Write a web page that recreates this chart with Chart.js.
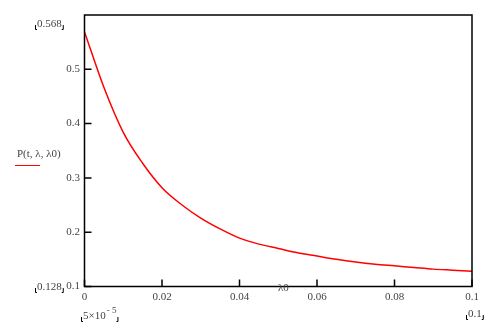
<!DOCTYPE html>
<html>
<head>
<meta charset="utf-8">
<script src="https://cdn.jsdelivr.net/npm/chart.js"></script>
<style>
html, body { margin: 0; padding: 0; background: #fff; }
</style>
</head>
<body>
<canvas id="plot" width="498" height="323"></canvas>
<script>
// values: P(t, λ, λ0) against λ0
const lambda0 = [0.00005, 0.005, 0.01, 0.015, 0.02, 0.025, 0.03, 0.035, 0.04, 0.045, 0.05,
                 0.055, 0.06, 0.065, 0.07, 0.075, 0.08, 0.085, 0.09, 0.095, 0.1];
const prob = [0.568, 0.467, 0.384, 0.327, 0.282, 0.251, 0.226, 0.206, 0.189, 0.178, 0.170,
              0.162, 0.156, 0.150, 0.145, 0.141, 0.138, 0.135, 0.132, 0.130, 0.128];
const xTicks = [0, 0.02, 0.04, 0.06, 0.08, 0.1];
const yTicks = [0.1, 0.2, 0.3, 0.4, 0.5];

const labelFont = '11px "Liberation Serif"';
const labelColor = '#444';

function fmt(v) {
    return v === 0 ? '0' : String(+v.toFixed(2));
}

// Mathcad-style limit label with little corner marks
function limitLabel(ctx, text, x, y, sup) {
    ctx.save();
    ctx.font = labelFont;
    ctx.fillStyle = labelColor;
    ctx.textBaseline = 'middle';
    ctx.textAlign = 'left';
    let w = ctx.measureText(text).width;
    ctx.fillText(text, x, y);
    if (sup) {
        ctx.font = '9px "Liberation Serif"';
        ctx.fillText(sup, x + w + 1, y - 5);
        w += ctx.measureText(sup).width + 1;
    }
    ctx.strokeStyle = '#000';
    ctx.lineWidth = 1;
    ctx.beginPath();
    ctx.moveTo(x - 1.5, y + 1);
    ctx.lineTo(x - 1.5, y + 5.5);
    ctx.lineTo(x, y + 5.5);
    ctx.moveTo(x + w + 1.5, y + 1);
    ctx.lineTo(x + w + 1.5, y + 5.5);
    ctx.lineTo(x + w, y + 5.5);
    ctx.stroke();
    ctx.restore();
}

const frame = {
    id: 'frame',
    afterDatasetsDraw(chart) {
        const ctx = chart.ctx;
        const a = chart.chartArea;
        const xs = chart.scales.x, ys = chart.scales.y;
        ctx.save();
        ctx.strokeStyle = '#000';
        ctx.lineWidth = 1.5;
        ctx.strokeRect(a.left, a.top, a.right - a.left, a.bottom - a.top);
        ctx.beginPath();
        xTicks.forEach(v => {
            const px = xs.getPixelForValue(v);
            ctx.moveTo(px, a.bottom);
            ctx.lineTo(px, a.bottom - 7);
        });
        yTicks.forEach(v => {
            const py = ys.getPixelForValue(v);
            ctx.moveTo(a.left, py);
            ctx.lineTo(a.left + 7, py);
        });
        ctx.stroke();

        ctx.font = labelFont;
        ctx.fillStyle = labelColor;
        ctx.textBaseline = 'middle';
        ctx.fillText('P(t, \u03bb, \u03bb0)', 17, 154);
        ctx.fillText('\u03bb0', 278, 288);
        ctx.strokeStyle = '#ff0000';
        ctx.lineWidth = 1;
        ctx.beginPath();
        ctx.moveTo(15, 165.5);
        ctx.lineTo(40, 165.5);
        ctx.stroke();
        ctx.restore();

        limitLabel(ctx, '0.568', 37, 24);
        limitLabel(ctx, '0.128', 37, 287);
        limitLabel(ctx, '5\u00d710', 83, 316, '- 5');
        limitLabel(ctx, '0.1', 468, 314);
    }
};

new Chart(document.getElementById('plot'), {
    type: 'line',
    data: {
        labels: lambda0,
        datasets: [{
            data: lambda0.map((x, i) => ({ x: x, y: prob[i] })),
            borderColor: '#ff0000',
            borderWidth: 1.5,
            pointRadius: 0,
            cubicInterpolationMode: 'monotone',
            fill: false
        }]
    },
    options: {
        responsive: false,
        animation: false,
        layout: { padding: { top: 15, right: 26, left: 0, bottom: 0 } },
        plugins: { legend: { display: false }, tooltip: { enabled: false } },
        scales: {
            x: {
                type: 'linear',
                min: 0,
                max: 0.1,
                afterBuildTicks: s => { s.ticks = xTicks.map(v => ({ value: v })); },
                afterFit: s => { s.height = 36.5; },
                grid: { display: false, drawTicks: false },
                border: { display: false },
                ticks: {
                    padding: 4,
                    color: labelColor,
                    font: { family: 'Liberation Serif', size: 11 },
                    maxRotation: 0,
                    callback: v => fmt(v)
                }
            },
            y: {
                min: 0.1,
                max: 0.6,
                afterBuildTicks: s => { s.ticks = yTicks.map(v => ({ value: v })); },
                afterFit: s => { s.width = 84.5; },
                grid: { display: false, drawTicks: false },
                border: { display: false },
                ticks: {
                    padding: 4.5,
                    color: labelColor,
                    font: { family: 'Liberation Serif', size: 11 },
                    callback: v => fmt(v)
                }
            }
        }
    },
    plugins: [frame]
});
</script>
</body>
</html>
